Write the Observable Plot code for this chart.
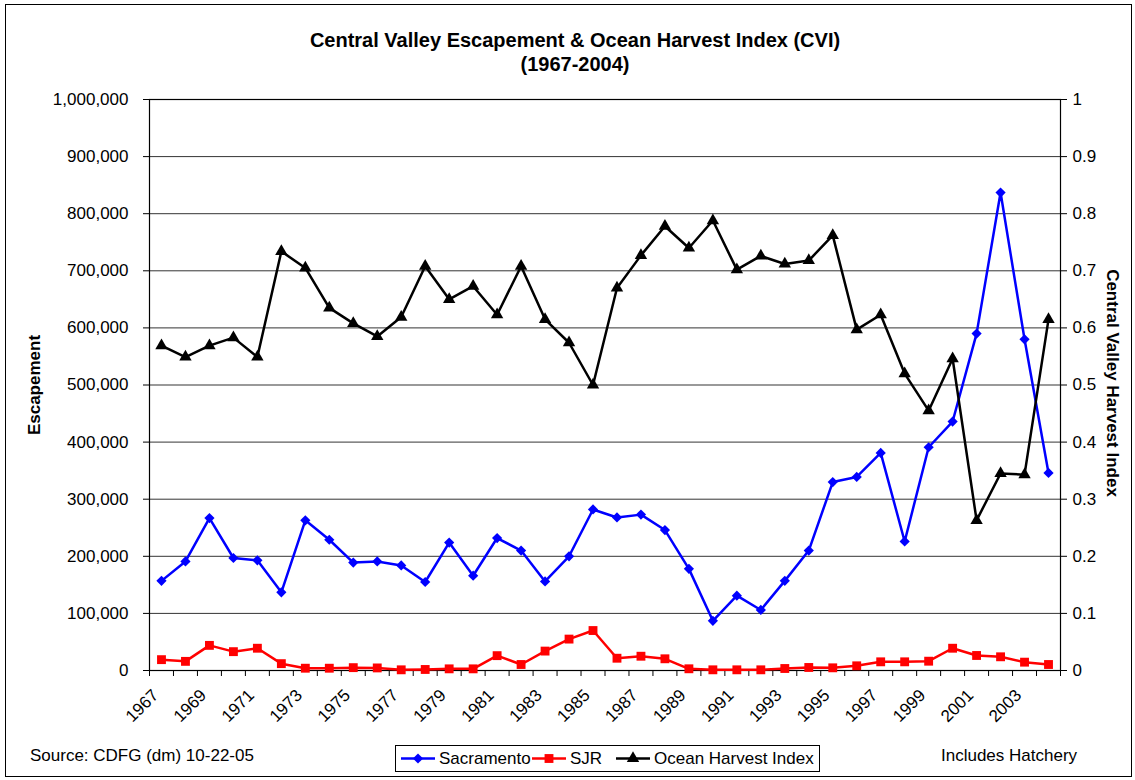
<!DOCTYPE html>
<html>
<head>
<meta charset="utf-8">
<script src="https://cdn.jsdelivr.net/npm/d3@7"></script>
<script src="https://cdn.jsdelivr.net/npm/@observablehq/plot@0.6"></script>
<style>
  html, body { margin: 0; padding: 0; background: #fff; }
  body { font-family: "Liberation Sans", Arial, sans-serif; color: #000; }
  #wrap { position: relative; width: 1135px; height: 780px; overflow: hidden; background: #fff; }
  #chart { position: absolute; left: 0; top: 0; }
  #border { position: absolute; left: 5px; top: 4px; width: 1127px; height: 773px; border: 1px solid #000; box-sizing: border-box; pointer-events: none; }
  .title { position: absolute; left: 0; width: 1150px; text-align: center; font-weight: bold; font-size: 20px; white-space: nowrap; }
  .ytitle { position: absolute; font-weight: bold; font-size: 17px; white-space: nowrap; transform-origin: center center; }
  .note { position: absolute; font-size: 17px; white-space: nowrap; }
  #legend { position: absolute; left: 395px; top: 745px; width: 425px; height: 27px; border: 1px solid #000; box-sizing: border-box; background: #fff; }
  .litem { position: absolute; top: 0; height: 25px; display: flex; align-items: center; font-size: 17px; white-space: nowrap; }
  .litem svg { margin-right: 3px; }
</style>
</head>
<body>
<div id="wrap">
  <div id="chart"></div>
  <div class="title" style="top:28px;line-height:24px;">Central Valley Escapement &amp; Ocean Harvest Index (CVI)<br>(1967-2004)</div>
  <div class="ytitle" id="ylLeft">Escapement</div>
  <div class="ytitle" id="ylRight">Central Valley Harvest Index</div>
  <div class="note" style="left:30px;top:746px;line-height:20px;">Source: CDFG (dm) 10-22-05</div>
  <div class="note" style="left:941px;top:746px;line-height:20px;">Includes Hatchery</div>
  <div id="legend"></div>
  <div id="border"></div>
</div>
<script>
// ---- data ----
const years = [1967, 1968, 1969, 1970, 1971, 1972, 1973, 1974, 1975, 1976,
               1977, 1978, 1979, 1980, 1981, 1982, 1983, 1984, 1985, 1986,
               1987, 1988, 1989, 1990, 1991, 1992, 1993, 1994, 1995, 1996,
               1997, 1998, 1999, 2000, 2001, 2002, 2003, 2004];

const sacramento = [157000, 191000, 267000, 197000, 193000, 137000, 263000, 229000, 189000, 191000,
                    184000, 155000, 224000, 166000, 232000, 210000, 156000, 200000, 282000, 268000,
                    273000, 246000, 178000, 87000, 131000, 106000, 157000, 210000, 330000, 339000,
                    381000, 226000, 391000, 436000, 590000, 837000, 580000, 346000];

const sjr = [19000, 16000, 44000, 33000, 39000, 12000, 4000, 4000, 5000, 4500,
             1200, 1800, 2900, 2900, 26000, 10500, 34000, 55000, 70000, 21500,
             25000, 20500, 3000, 1200, 1200, 1200, 3500, 5300, 4700, 8200,
             15200, 15200, 16300, 39000, 26300, 24000, 14600, 10500];

const harvestIndex = [0.569, 0.549, 0.569, 0.583, 0.549, 0.734, 0.705, 0.635, 0.608, 0.585,
                      0.619, 0.708, 0.650, 0.673, 0.623, 0.708, 0.615, 0.574, 0.500, 0.670,
                      0.727, 0.778, 0.740, 0.788, 0.702, 0.726, 0.712, 0.718, 0.762, 0.597,
                      0.623, 0.520, 0.455, 0.546, 0.263, 0.345, 0.343, 0.615];

const leftTicks = [0, 100000, 200000, 300000, 400000, 500000, 600000, 700000, 800000, 900000, 1000000];
const rightTickLabels = ["0", "0.1", "0.2", "0.3", "0.4", "0.5", "0.6", "0.7", "0.8", "0.9", "1"];
const xTickLabels = [1967, 1969, 1971, 1973, 1975, 1977, 1979, 1981, 1983, 1985,
                     1987, 1989, 1991, 1993, 1995, 1997, 1999, 2001, 2003];

const seriesNames = ["Sacramento", "SJR", "Ocean Harvest Index"];
const seriesColors = ["#0000ff", "#ff0000", "#000000"];
const seriesSymbols = ["diamond2", "square", "triangle"];

// secondary axis (0..1) mapped onto the primary y scale (0..1,000,000)
const indexFactor = 1000000;

const rows = years.map((year, i) => ({
  year,
  sac: sacramento[i],
  sjr: sjr[i],
  ohi: harvestIndex[i] * indexFactor
}));

// category boundaries (tick marks between categories)
const boundaries = years.map(y => y - 0.5).concat([years[years.length - 1] + 0.5]);

const chart = Plot.plot({
  width: 1135,
  height: 780,
  marginLeft: 149,
  marginRight: 75,
  marginTop: 99,
  marginBottom: 110,
  style: { fontFamily: "'Liberation Sans', Arial, sans-serif", fontSize: "17px", color: "#000", background: "transparent", overflow: "visible" },
  x: { domain: [boundaries[0], boundaries[boundaries.length - 1]] },
  y: { domain: [0, 1000000] },
  marks: [
    Plot.gridY(leftTicks, { stroke: "#000", strokeOpacity: 0.8, strokeWidth: 1 }),
    Plot.frame({ stroke: "#000", strokeWidth: 1.2 }),
    Plot.axisY(leftTicks, { anchor: "left", tickSize: 6, tickPadding: 15, tickFormat: d3.format(","), label: null, fontSize: 17 }),
    Plot.axisY(leftTicks, { anchor: "right", tickSize: 6, tickPadding: 6, tickFormat: d => rightTickLabels[leftTicks.indexOf(d)], label: null, fontSize: 17 }),
    Plot.axisX(boundaries, { anchor: "bottom", tickSize: 6, tickFormat: () => "", label: null }),
    Plot.axisX(xTickLabels, { anchor: "bottom", tickSize: 0, tickPadding: 12, tickRotate: -45, tickFormat: d => String(d), label: null, fontSize: 17, dx: -6, dy: 10 }),
    Plot.line(rows, { x: "year", y: "sac", stroke: seriesColors[0], strokeWidth: 2.5 }),
    Plot.dot(rows, { x: "year", y: "sac", symbol: seriesSymbols[0], r: 4.6, fill: seriesColors[0] }),
    Plot.line(rows, { x: "year", y: "sjr", stroke: seriesColors[1], strokeWidth: 2.5 }),
    Plot.dot(rows, { x: "year", y: "sjr", symbol: seriesSymbols[1], r: 5, fill: seriesColors[1] }),
    Plot.line(rows, { x: "year", y: "ohi", stroke: seriesColors[2], strokeWidth: 2.5 }),
    Plot.dot(rows, { x: "year", y: "ohi", symbol: seriesSymbols[2], r: 4.6, fill: seriesColors[2] })
  ]
});
document.getElementById("chart").appendChild(chart);

// axis titles (rotated)
function placeRotated(el, cx, cy, deg) {
  const w = el.offsetWidth, h = el.offsetHeight;
  el.style.left = (cx - w / 2) + "px";
  el.style.top = (cy - h / 2) + "px";
  el.style.transform = `rotate(${deg}deg)`;
}
placeRotated(document.getElementById("ylLeft"), 35, 385, -90);
placeRotated(document.getElementById("ylRight"), 1112, 383, 90);

// legend
const legend = document.getElementById("legend");
const itemLefts = [4, 135, 219];
seriesNames.forEach((name, i) => {
  const item = document.createElement("div");
  item.className = "litem";
  item.style.left = itemLefts[i] + "px";
  const svg = d3.create("svg").attr("width", 36).attr("height", 25);
  svg.append("line").attr("x1", 1).attr("x2", 35).attr("y1", 12.5).attr("y2", 12.5)
    .attr("stroke", seriesColors[i]).attr("stroke-width", 2.5);
  const symMap = { diamond2: d3.symbolDiamond2, square: d3.symbolSquare, triangle: d3.symbolTriangle };
  const r = i === 1 ? 5 : 4.6;
  svg.append("path").attr("transform", "translate(18,12.5)")
    .attr("d", d3.symbol(symMap[seriesSymbols[i]], r * r * Math.PI)()).attr("fill", seriesColors[i]);
  item.appendChild(svg.node());
  const span = document.createElement("span");
  span.textContent = name;
  item.appendChild(span);
  legend.appendChild(item);
});
</script>
</body>
</html>
